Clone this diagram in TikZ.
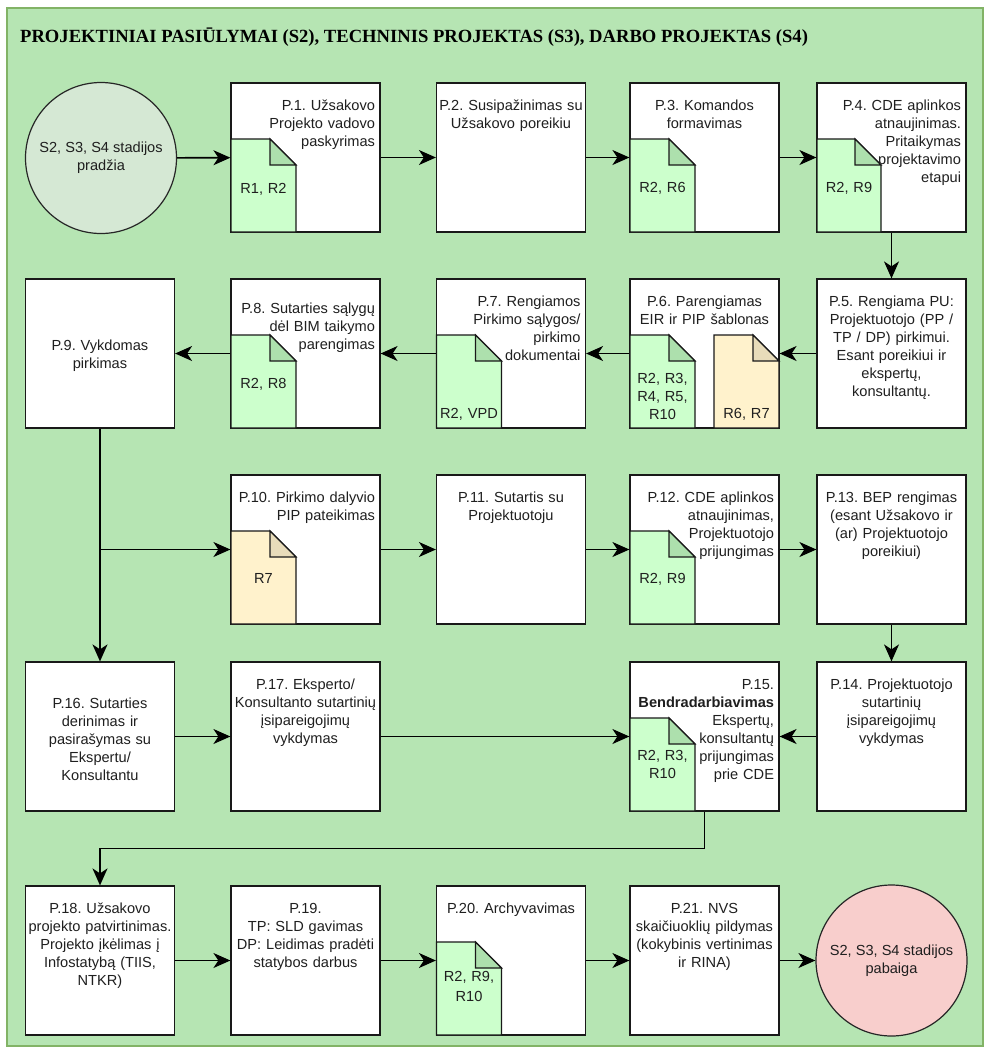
\documentclass[tikz,border=0pt]{standalone}
\usepackage{fontspec}
\setmainfont{Liberation Sans}
\newfontfamily\titlefont{Liberation Serif}
\usetikzlibrary{arrows.meta, positioning, calc}
\frenchspacing
\definecolor{framegreen}{RGB}{130,179,102}
\definecolor{bggreen}{RGB}{182,229,179}
\definecolor{startgreen}{RGB}{213,232,212}
\definecolor{endred}{RGB}{248,206,204}
\definecolor{docgreen}{RGB}{204,255,204}
\definecolor{foldgreen}{RGB}{173,224,173}
\definecolor{docorange}{RGB}{255,242,204}
\definecolor{foldorange}{RGB}{232,220,186}

\tikzset{
  proc/.style={draw=black!90, line width=1.2pt, fill=white, minimum width=149pt, minimum height=149pt, inner sep=0pt},
  txt/.style={font=\fontsize{14.6}{18}\selectfont, text=black!88, inner sep=0pt, text width=149pt, anchor=base, align=center},
  rtxt/.style={txt, align=right, xshift=-5pt},
  reftxt/.style={font=\fontsize{14.6}{18}\selectfont, text=black!88, inner sep=0pt, text width=64pt, align=center, anchor=base},
  stage/.style={circle, draw=black!85, line width=1.2pt, minimum size=151pt, inner sep=0pt, align=center, text=black!88, font=\fontsize{14.6}{18}\selectfont},
  flow/.style={line width=1.6pt, -{Stealth[length=17pt,width=15pt,inset=5pt]}},
}

% document note: left, top, width, fill, fold fill
\newcommand{\docnote}[5]{%
  \filldraw[draw=black!90, line width=1.2pt, fill=#4] (#1,#2) -- (#1+#3-26,#2) -- (#1+#3,#2+26) |- (#1,#2+93) -- cycle;
  \filldraw[draw=black!90, line width=1.2pt, fill=#5] (#1+#3-26,#2) |- (#1+#3,#2+26) -- cycle;
}

\begin{document}
\begin{tikzpicture}[x=1pt, y=-1pt]
\useasboundingbox (0,0) rectangle (985,1050);
%the frame
\draw[framegreen, fill=bggreen, line width=1.5pt] (7,8) rectangle (983,1046);
\node[anchor=base west, inner sep=0pt, font=\titlefont\bfseries\fontsize{18.6}{22}\selectfont] (title) at (20,42) {PROJEKTINIAI PASIŪLYMAI (S2), TECHNINIS PROJEKTAS (S3), DARBO PROJEKTAS (S4)};

%start and end
\node[stage, fill=startgreen] (start) at (101,158) {S2, S3, S4 stadijos\\pradžia};
\node[stage, fill=endred] (end) at (891.5,960.5) {S2, S3, S4 stadijos\\pabaiga};

%the boxes
\node[proc] (p1) at (305.5,157.5) {};
\node[proc] (p2) at (511,157.5) {};
\node[proc] (p3) at (704.5,157.5) {};
\node[proc] (p4) at (891.5,157.5) {};
\node[proc] (p5) at (891.5,353.5) {};
\node[proc] (p6) at (704.5,353.5) {};
\node[proc] (p7) at (511,353.5) {};
\node[proc] (p8) at (305.5,353.5) {};
\node[proc] (p9) at (100,353.5) {};
\node[proc] (p10) at (305.5,549.5) {};
\node[proc] (p11) at (511,549.5) {};
\node[proc] (p12) at (704.5,549.5) {};
\node[proc] (p13) at (891.5,549.5) {};
\node[proc] (p14) at (891.5,736.5) {};
\node[proc] (p15) at (704.5,736.5) {};
\node[proc] (p16) at (100,736.5) {};
\node[proc] (p17) at (305.5,736.5) {};
\node[proc] (p18) at (100,960.5) {};
\node[proc] (p19) at (305.5,960.5) {};
\node[proc] (p20) at (511,960.5) {};
\node[proc] (p21) at (704.5,960.5) {};

%the box texts
\node[rtxt] (p1t) at (305.5,110) {P.1. Užsakovo\\Projekto vadovo\\paskyrimas};
\node[txt] (p2t) at (511,110) {P.2. Susipažinimas su\\Užsakovo poreikiu};
\node[txt] (p3t) at (704.5,110) {P.3. Komandos\\formavimas};
\node[rtxt] (p4t) at (891.5,110) {P.4. CDE aplinkos\\atnaujinimas.\\Pritaikymas\\projektavimo\\etapui};
\node[txt] (p5t) at (891.5,306) {P.5. Rengiama PU:\\Projektuotojo (PP /\\TP / DP) pirkimui.\\Esant poreikiui ir\\ekspertų,\\konsultantų.};
\node[txt] (p6t) at (704.5,306) {P.6. Parengiamas\\EIR ir PIP šablonas};
\node[rtxt] (p7t) at (511,306) {P.7. Rengiamos\\Pirkimo sąlygos/\\pirkimo\\dokumentai};
\node[rtxt] (p8t) at (305.5,313) {P.8. Sutarties sąlygų\\dėl BIM taikymo\\parengimas};
\node[txt] (p9t) at (100,350) {P.9. Vykdomas\\pirkimas};
\node[rtxt] (p10t) at (305.5,502) {P.10. Pirkimo dalyvio\\PIP pateikimas};
\node[txt] (p11t) at (511,502) {P.11. Sutartis su\\Projektuotoju};
\node[rtxt] (p12t) at (704.5,502) {P.12. CDE aplinkos\\atnaujinimas,\\Projektuotojo\\prijungimas};
\node[txt] (p13t) at (891.5,502) {P.13. BEP rengimas\\(esant Užsakovo ir\\(ar) Projektuotojo\\poreikiui)};
\node[txt] (p14t) at (891.5,689) {P.14. Projektuotojo\\sutartinių\\įsipareigojimų\\vykdymas};
\node[rtxt] (p15t) at (704.5,689) {P.15.\\\textbf{Bendradarbiavimas}\\Ekspertų,\\konsultantų\\prijungimas\\prie CDE};
\node[txt] (p16t) at (100,708) {P.16. Sutarties\\derinimas ir\\pasirašymas su\\Ekspertu/\\Konsultantu};
\node[txt] (p17t) at (305.5,689) {P.17. Eksperto/\\Konsultanto sutartinių\\įsipareigojimų\\vykdymas};
\node[txt] (p18t) at (100,913) {P.18. Užsakovo\\projekto patvirtinimas.\\Projekto įkėlimas į\\Infostatybą (TIIS,\\NTKR)};
\node[txt] (p19t) at (305.5,913) {P.19.\\TP: SLD gavimas\\DP: Leidimas pradėti\\statybos darbus};
\node[txt] (p20t) at (511,913) {P.20. Archyvavimas};
\node[txt] (p21t) at (704.5,913) {P.21. NVS\\skaičiuoklių pildymas\\(kokybinis vertinimas\\ir RINA)};

%the documents
\docnote{231}{139}{65}{docgreen}{foldgreen}
\docnote{630}{139}{65}{docgreen}{foldgreen}
\docnote{817}{139}{64}{docgreen}{foldgreen}
\docnote{231}{335}{65}{docgreen}{foldgreen}
\docnote{436.5}{335}{65}{docgreen}{foldgreen}
\docnote{630}{335}{65}{docgreen}{foldgreen}
\docnote{714}{335}{65}{docorange}{foldorange}
\docnote{231}{531}{65}{docorange}{foldorange}
\docnote{630}{531}{65}{docgreen}{foldgreen}
\docnote{630}{718}{65}{docgreen}{foldgreen}
\docnote{436.5}{942}{65}{docgreen}{foldgreen}
\node[reftxt] (r1) at (263.5,193) {R1, R2};
\node[reftxt] (r3) at (662.5,192) {R2, R6};
\node[reftxt] (r4) at (849,192) {R2, R9};
\node[reftxt] (r8) at (263.5,388) {R2, R8};
\node[reftxt] (r7) at (469,418) {R2, VPD};
\node[reftxt] (r6a) at (662.5,383) {R2, R3,\\R4, R5,\\R10};
\node[reftxt] (r6b) at (746.5,418) {R6, R7};
\node[reftxt] (r10) at (263.5,583) {R7};
\node[reftxt] (r12) at (662.5,583) {R2, R9};
\node[reftxt] (r15) at (662.5,760) {R2, R3,\\R10};
\node[reftxt, font=\fontsize{14.6}{20}\selectfont] (r20) at (469,981) {R2, R9,\\R10};

%the connectors
\draw[flow] (start) -- (p1);
\draw[flow] (p1) -- (p2);
\draw[flow] (p2) -- (p3);
\draw[flow] (p3) -- (p4);
\draw[flow] (p4) -- (p5);
\draw[flow] (p5) -- (p6);
\draw[flow] (p6) -- (p7);
\draw[flow] (p7) -- (p8);
\draw[flow] (p8) -- (p9);
\draw[flow] (p9) -- (p16);
\draw[flow] (p9.south |- p10.west) -- (p10);
\draw[flow] (p10) -- (p11);
\draw[flow] (p11) -- (p12);
\draw[flow] (p12) -- (p13);
\draw[flow] (p13) -- (p14);
\draw[flow] (p14) -- (p15);
\draw[flow] (p16) -- (p17);
\draw[flow] (p17) -- (p15);
\draw[flow] (p15.south) -- ++(0,37) -| (p18.north);
\draw[flow] (p18) -- (p19);
\draw[flow] (p19) -- (p20);
\draw[flow] (p20) -- (p21);
\draw[flow] (p21) -- (end);
\end{tikzpicture}
\end{document}
